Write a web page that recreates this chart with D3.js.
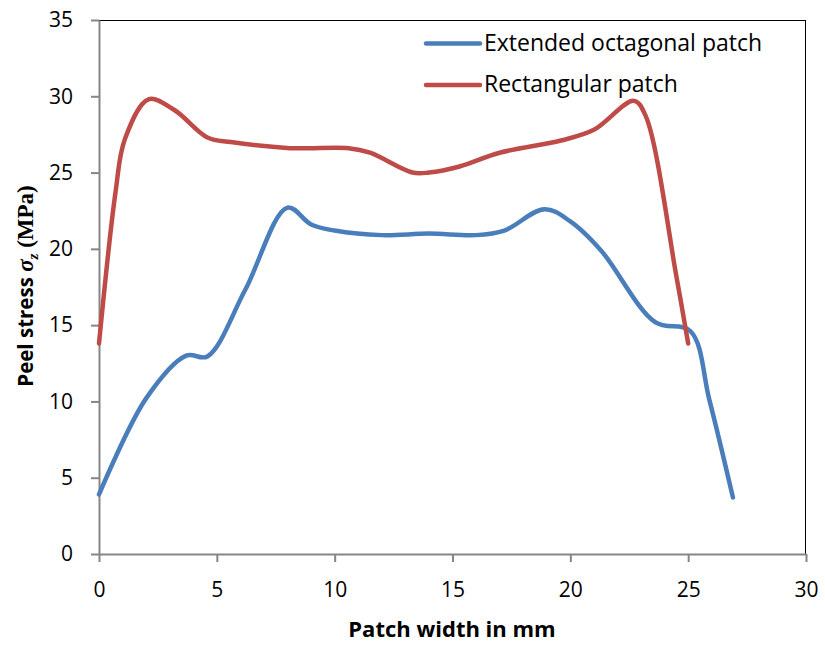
<!DOCTYPE html>
<html>
<head>
<meta charset="utf-8">
<script src="https://cdn.jsdelivr.net/npm/d3@7"></script>
<style>
  body { margin: 0; background: #fff; }
  svg { display: block; }
</style>
</head>
<body>
<svg id="chart" width="825" height="646"></svg>
<script>
// Peel stress along the patch width, two patch shapes
const octagonalX = [0, 2, 3.7, 4.6, 6.2, 8.0, 9.0, 10.0, 12.0, 14.0, 16.0, 17.2, 18.9, 20.0, 21.3, 23.6, 25.1, 25.9, 26.9];
const octagonalY = [3.9, 10.2, 13.0, 12.95, 17.3, 22.7, 21.6, 21.2, 20.9, 21.0, 20.9, 21.2, 22.6, 21.8, 19.9, 15.2, 14.6, 10.1, 3.7];

const rectX = [0, 0.7, 1.1, 2.1, 3.2, 4.6, 5.6, 8.1, 10.6, 11.5, 13.3, 14.0, 15.3, 17.0, 19.6, 21.0, 22.7, 23.2, 24.5, 25.0];
const rectY = [13.8, 23.7, 27.2, 29.8, 29.1, 27.3, 27.0, 26.6, 26.6, 26.3, 25.0, 25.0, 25.4, 26.3, 27.1, 27.8, 29.7, 28.7, 18.2, 13.8];

const seriesNames = ["Extended octagonal patch", "Rectangular patch"];
const seriesColors = ["#4a7ebb", "#be4b48"];

const xTicks = [0, 5, 10, 15, 20, 25, 30];
const yTicks = [0, 5, 10, 15, 20, 25, 30, 35];

const svg = d3.select("#chart");
const plot = { left: 99, right: 806, top: 20, bottom: 554 };

const x = d3.scaleLinear().domain([0, 30]).range([plot.left, plot.right]);
const y = d3.scaleLinear().domain([0, 35]).range([plot.bottom, plot.top]);

// frame: top and right edges
svg.append("line").attr("x1", plot.left).attr("x2", plot.right)
  .attr("y1", plot.top + 0.5).attr("y2", plot.top + 0.5)
  .attr("stroke", "#000").attr("stroke-width", 1);
svg.append("line").attr("x1", plot.right - 0.5).attr("x2", plot.right - 0.5)
  .attr("y1", plot.top).attr("y2", plot.bottom)
  .attr("stroke", "#000").attr("stroke-width", 1);

const textFont = "'Open Sans', Lato, sans-serif";

// x axis
const xAxis = svg.append("g")
  .attr("transform", `translate(0,${plot.bottom})`)
  .call(d3.axisBottom(x).tickValues(xTicks).tickSize(8).tickPadding(20).tickSizeOuter(0));
// y axis
const yAxis = svg.append("g")
  .attr("transform", `translate(${plot.left},0)`)
  .call(d3.axisLeft(y).tickValues(yTicks).tickSize(8).tickPadding(18).tickSizeOuter(0));

[xAxis, yAxis].forEach(g => {
  g.select(".domain").attr("stroke", "#868686").attr("stroke-width", 2);
  g.selectAll(".tick line").attr("stroke", "#868686").attr("stroke-width", 2);
  g.selectAll(".tick text").attr("fill", "#000")
    .style("font-family", textFont).style("font-size", "21px");
});

// series
const line = d3.line().curve(d3.curveCatmullRom.alpha(0.5))
  .x(d => x(d[0])).y(d => y(d[1]));

const series = [
  d3.zip(octagonalX, octagonalY),
  d3.zip(rectX, rectY)
];

series.forEach((pts, i) => {
  svg.append("path").datum(pts)
    .attr("d", line)
    .attr("fill", "none")
    .attr("stroke", seriesColors[i])
    .attr("stroke-width", 4.5)
    .attr("stroke-linecap", "round")
    .attr("stroke-linejoin", "round");
});

// legend
const legend = svg.append("g");
seriesNames.forEach((name, i) => {
  const ly = 43.5 + i * 41.5;
  legend.append("line")
    .attr("x1", 426).attr("x2", 480).attr("y1", ly).attr("y2", ly)
    .attr("stroke", seriesColors[i]).attr("stroke-width", 4.5)
    .attr("stroke-linecap", "round");
  legend.append("text")
    .attr("x", 484).attr("y", ly + 7)
    .style("font-family", textFont).style("font-size", "23px")
    .attr("fill", "#000")
    .text(name);
});

// axis titles
svg.append("text")
  .attr("x", 452).attr("y", 637)
  .attr("text-anchor", "middle")
  .style("font-family", textFont).style("font-size", "22px").style("font-weight", "bold")
  .text("Patch width in mm");

const yt = svg.append("text")
  .attr("transform", "translate(33,286) rotate(-90)")
  .attr("text-anchor", "middle")
  .style("font-size", "20.5px").style("font-weight", "bold");
yt.append("tspan").style("font-family", textFont).text("Peel stress ");
yt.append("tspan").style("font-family", "'Liberation Serif', serif").style("font-style", "italic")
  .style("font-size", "23px").text("σ");
yt.append("tspan").style("font-family", "'Liberation Serif', serif").style("font-style", "italic")
  .style("font-size", "15px").attr("dy", 5).text("z");
yt.append("tspan").style("font-family", "'Liberation Serif', serif")
  .style("font-size", "23px").attr("dy", -5).text(" (MPa)");
</script>
</body>
</html>
